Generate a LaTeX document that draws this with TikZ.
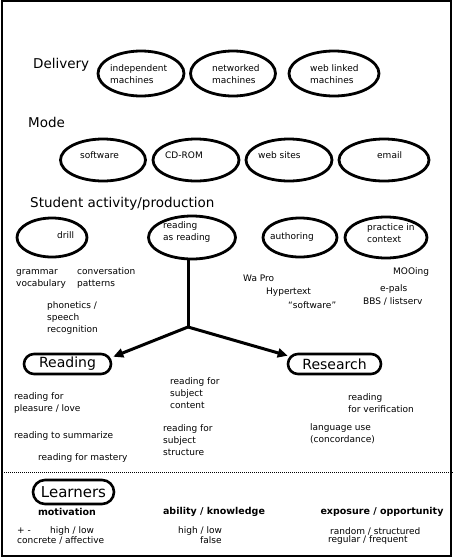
\documentclass[tikz,border=0pt]{standalone}
\usepackage{fontspec}
\setmainfont{DejaVu Sans}
\usetikzlibrary{shapes.geometric,arrows.meta,calc}
\begin{document}
\begin{tikzpicture}[x=1pt,y=-1pt,
  oval/.style={ellipse, draw, line width=2.8pt, inner sep=0pt},
  pill/.style={rectangle, rounded corners=10pt, draw, line width=2.6pt, inner sep=0pt},
  txt/.style={font=\fontsize{9}{12}\selectfont, align=left, inner sep=0pt, anchor=west},
  head/.style={font=\fontsize{13.5}{16}\selectfont, inner sep=0pt, anchor=base west},
  bld/.style={font=\fontsize{9.5}{12}\selectfont\bfseries, inner sep=0pt},
  conn/.style={line width=3pt},
  arr/.style={conn, -{Triangle[length=10pt,width=9pt]}}]
\useasboundingbox (0,0) rectangle (464,560);
\draw[line width=2pt] (2,1) rectangle (451,556);
\draw[line width=1pt, dash pattern=on 1pt off 1pt] (2,472) -- (453,472);

% Delivery
\node[head] (hdel) at (33,68.5) {Delivery};
\node[oval, minimum width=86, minimum height=45] (d1) at (141,73.5) {};
\node[oval, minimum width=85, minimum height=45] (d2) at (233,73.5) {};
\node[oval, minimum width=90, minimum height=45] (d3) at (334,73.5) {};
\node[txt] (d1t) at (110,74) {independent\\machines};
\node[txt] (d2t) at (212,74) {networked\\machines};
\node[txt] (d3t) at (310,74) {web linked\\machines};

% Mode
\node[head] (hmode) at (28,127.5) {Mode};
\node[oval, minimum width=85, minimum height=42] (m1) at (103,160) {};
\node[oval, minimum width=86, minimum height=42] (m2) at (196,160) {};
\node[oval, minimum width=86, minimum height=42] (m3) at (289,160) {};
\node[oval, minimum width=90, minimum height=42] (m4) at (384,160) {};
\node[txt] (m1t) at (80,155) {software};
\node[txt] (m2t) at (165,155) {CD-ROM};
\node[txt] (m3t) at (258,155) {web sites};
\node[txt] (m4t) at (377,155) {email};

% Student activity
\node[head] (hstu) at (30,207) {Student activity/production};
\node[oval, minimum width=70, minimum height=39] (drill) at (52,237.5) {};
\node[oval, minimum width=87, minimum height=43] (rar) at (192,237.5) {};
\node[oval, minimum width=74, minimum height=39] (auth) at (300,237.5) {};
\node[oval, minimum width=82, minimum height=41] (prac) at (386,237.5) {};
\node[txt] (drillt) at (57,235) {drill};
\node[txt] (rart) at (163,232.5) {reading\\as reading};
\node[txt] (autht) at (270,237) {authoring};
\node[txt] (pract) at (367,233.5) {practice in\\context};

\node[txt] (gram) at (16,278.5) {grammar\\vocabulary};
\node[txt] (conv) at (77,278.5) {conversation\\patterns};
\node[txt] (phon) at (47,318) {phonetics /\\speech\\recognition};
\node[txt] (wapro) at (243,278) {Wa Pro};
\node[txt] (hyper) at (266,292) {Hypertext};
\node[txt] (soft) at (288,305) {“software”};
\node[txt] (moo) at (393,272) {MOOing};
\node[txt] (epals) at (380,289) {e-pals};
\node[txt] (bbs) at (363,301) {BBS / listserv};

% Reading / Research
\node[pill, minimum width=87, minimum height=20] (reading) at (67.5,364) {};
\node[pill, minimum width=93, minimum height=20] (research) at (334.5,364) {};
\node[font=\fontsize{14}{16}\selectfont, inner sep=0pt] (readingt) at (67.5,364) {Reading};
\node[font=\fontsize{14}{16}\selectfont, inner sep=0pt] (researcht) at (334.5,364) {Research};

\coordinate (j) at (188,327);
\draw[conn] (j |- rar.south) -- (j);
\draw[arr] (j) -- ($(reading.north east)+(1,4)$);
\draw[arr] (j) -- ($(research.north west)+(1,3)$);

\node[txt] (r1) at (14,403.5) {reading for\\pleasure / love};
\node[txt] (r2) at (14,436) {reading to summarize};
\node[txt] (r3) at (38,458) {reading for mastery};
\node[txt] (r4) at (170,393) {reading for\\subject\\content};
\node[txt] (r5) at (163,440) {reading for\\subject\\structure};
\node[txt] (r6) at (348,403.5) {reading\\for verification};
\node[txt] (r7) at (310,434) {language use\\(concordance)};

% Learners
\node[pill, rounded corners=12pt, minimum width=81, minimum height=24] (learn) at (73.5,492) {};
\node[font=\fontsize{15}{17}\selectfont, inner sep=0pt] (learnt) at (73.5,492) {Learners};
\node[bld] (mot) at (67,512) {motivation};
\node[bld] (abil) at (214,512) {ability / knowledge};
\node[bld] (expo) at (382,512) {exposure / opportunity};
\node[txt] (pm) at (17,531) {+ -};
\node[txt] (hl1) at (50,531) {high / low};
\node[txt] (conc) at (17,540) {concrete / affective};
\node[txt] (hl2) at (178,531) {high / low};
\node[txt] (fals) at (200,540) {false};
\node[txt] (rand) at (330,531) {random / structured};
\node[txt] (regu) at (328,540) {regular / frequent};
\end{tikzpicture}
\end{document}
